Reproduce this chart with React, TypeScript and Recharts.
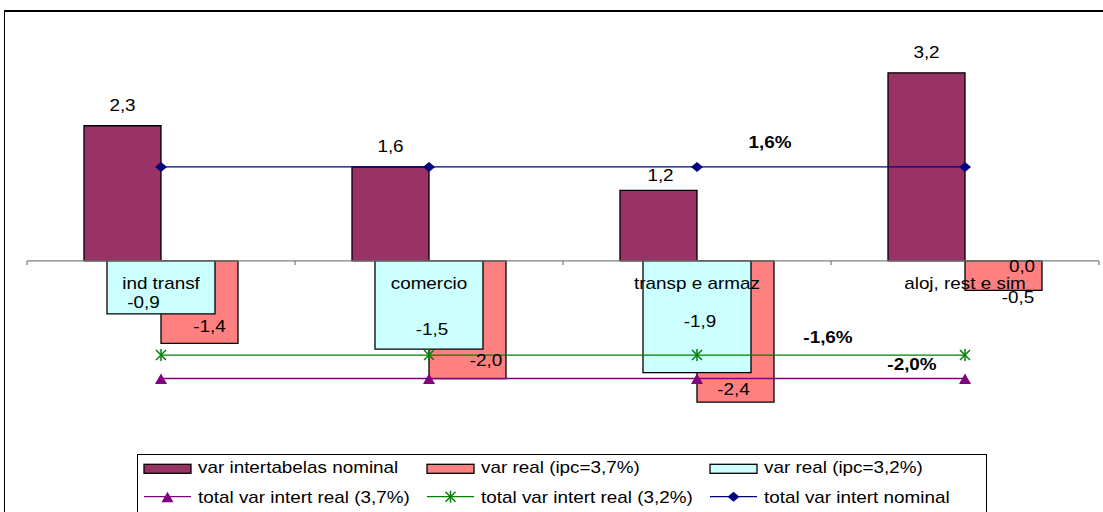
import React from 'react';
import { ComposedChart, Bar, Line, XAxis, YAxis, ReferenceLine, LabelList, Legend } from 'recharts';

// Sector categories and series values
const categories = ['ind transf', 'comercio', 'transp e armaz', 'aloj, rest e sim'];
const nominal = [2.3, 1.6, 1.2, 3.2];
const real37 = [-1.4, -2.0, -2.4, -0.5];
const real32 = [-0.9, -1.5, -1.9, 0.0];
const totalReal37 = [-2.0, -2.0, -2.0, -2.0];
const totalReal32 = [-1.6, -1.6, -1.6, -1.6];
const totalNominal = [1.6, 1.6, 1.6, 1.6];

const rows = categories.map((cat, i) => ({
  cat,
  nominal: nominal[i],
  real37: real37[i],
  real32: real32[i],
  tr37: totalReal37[i],
  tr32: totalReal32[i],
  tn: totalNominal[i],
  zero: 0,
}));

const C_NOMINAL = '#993366';
const C_REAL37 = '#FF8080';
const C_REAL32 = '#CCFFFF';
const C_TR37 = '#800080';
const C_TR32 = '#008000';
const C_TN = '#000080';

const FONT = "'Liberation Sans', Arial, Helvetica, sans-serif";
const SX = 1.18;
const HALF_CAP = 5.8;

// label nudges [dx, dy] per point
const NOMINAL_NUDGE = [[0, 0], [0, 0], [2, 6], [0, 0]];
const REAL37_NUDGE = [[10, -16.6], [18.5, -18.6], [-2, -13], [14.5, 6.6]];
const REAL32_NUDGE = [[-17.5, -12], [3, -20], [3, -51], [57, 5.7]];

const fmt = (v: number) => v.toFixed(1).replace('.', ',');

function SText({ x, y, bold, anchor = 'middle', children }: any) {
  return (
    <text
      transform={`translate(${x} ${y}) scale(${SX} 1)`}
      textAnchor={anchor}
      fontFamily={FONT}
      fontSize={16}
      fontWeight={bold ? 700 : 400}
      fill="#000"
    >
      {children}
    </text>
  );
}

function rectOf(p: any) {
  const v = p.viewBox && typeof p.viewBox.x === 'number' ? p.viewBox : p;
  const x = Number(v.x);
  const y = Number(v.y);
  const w = Number(v.width || 0);
  const h = Number(v.height || 0);
  return { cx: x + w / 2, top: Math.min(y, y + h), bottom: Math.max(y, y + h) };
}

const barLabel = (values: number[], nudge: number[][], place: 'above' | 'bottom') => (p: any) => {
  const i = p.index;
  const r = rectOf(p);
  const [dx, dy] = nudge[i];
  const cy = place === 'above' ? r.top - 21 + dy : r.bottom + dy;
  return (
    <SText key={`l${i}`} x={r.cx + dx} y={cy + HALF_CAP}>
      {fmt(values[i])}
    </SText>
  );
};

const lineNote = (values: number[], at: number, dx: number, dy: number) => (p: any) => {
  if (p.index !== at) return null;
  const r = rectOf(p);
  return (
    <SText key="note" x={r.cx + dx} y={r.top + dy + HALF_CAP} bold>
      {fmt(values[at]) + '%'}
    </SText>
  );
};

const categoryLabel = (p: any) => {
  const r = rectOf(p);
  return (
    <SText key={`c${p.index}`} x={r.cx} y={r.top + 28}>
      {categories[p.index]}
    </SText>
  );
};

function Diamond({ cx, cy }: any) {
  return <polygon points={`${cx},${cy - 5} ${cx + 6},${cy} ${cx},${cy + 5} ${cx - 6},${cy}`} fill={C_TN} />;
}
function Triangle({ cx, cy }: any) {
  return <polygon points={`${cx},${cy - 5} ${cx + 6},${cy + 5.5} ${cx - 6},${cy + 5.5}`} fill={C_TR37} />;
}
function Star({ cx, cy }: any) {
  return (
    <g stroke={C_TR32} strokeWidth={1.5}>
      <line x1={cx - 5} y1={cy - 5} x2={cx + 5} y2={cy + 5} />
      <line x1={cx - 5} y1={cy + 5} x2={cx + 5} y2={cy - 5} />
      <line x1={cx} y1={cy - 6} x2={cx} y2={cy + 6} />
    </g>
  );
}

const zeroAxis = (p: any) => {
  const { x1, y1, x2 } = p;
  const n = categories.length;
  const step = (x2 - x1) / n;
  return (
    <g>
      <line x1={x1} y1={y1} x2={x2} y2={y1} stroke="#808080" strokeWidth={1.3} />
      {Array.from({ length: n + 1 }, (_, k) => (
        <line key={k} x1={x1 + k * step} x2={x1 + k * step} y1={y1} y2={y1 + 4} stroke="#808080" strokeWidth={1.3} />
      ))}
    </g>
  );
};

const legendBars = [
  { name: 'var intertabelas nominal', color: C_NOMINAL },
  { name: 'var real (ipc=3,7%)', color: C_REAL37 },
  { name: 'var real (ipc=3,2%)', color: C_REAL32 },
];
const legendLines = [
  { name: 'total var intert real (3,7%)', color: C_TR37, Mark: Triangle },
  { name: 'total var intert real (3,2%)', color: C_TR32, Mark: Star },
  { name: 'total var intert nominal', color: C_TN, Mark: Diamond },
];
const LEGEND_COLS = [7, 290, 573];

function LegendBox() {
  return (
    <svg width={852} height={62} style={{ display: 'block', overflow: 'visible' }}>
      <rect x={0.5} y={0.5} width={849} height={70} fill="#fff" stroke="#000" />
      {legendBars.map((it, k) => (
        <g key={it.name}>
          <rect x={LEGEND_COLS[k]} y={10.3} width={47} height={9} fill={it.color} stroke="#000" strokeWidth={1.3} />
          <SText x={LEGEND_COLS[k] + 54} y={19.3} anchor="start">{it.name}</SText>
        </g>
      ))}
      {legendLines.map((it, k) => (
        <g key={it.name}>
          <line x1={LEGEND_COLS[k]} x2={LEGEND_COLS[k] + 47} y1={42.7} y2={42.7} stroke={it.color} strokeWidth={1.3} />
          <it.Mark cx={LEGEND_COLS[k] + 23.5} cy={42.7} />
          <SText x={LEGEND_COLS[k] + 54} y={49.3} anchor="start">{it.name}</SText>
        </g>
      ))}
    </svg>
  );
}

export default function App() {
  return (
    <div style={{ position: 'absolute', left: 0, top: 0, width: 1103, height: 512, overflow: 'hidden', background: '#fff' }}>
      <div
        style={{
          position: 'absolute',
          left: 4,
          top: 10,
          width: 1120,
          height: 540,
          borderTop: '2px solid #000',
          borderLeft: '1px solid #000',
          boxSizing: 'border-box',
        }}
      />
      <div style={{ position: 'absolute', left: 0, top: 0 }}>
        <ComposedChart
          width={1103}
          height={512}
          data={rows}
          margin={{ top: 49.3, right: 4, bottom: 86.4, left: 27 }}
          barGap={0}
        >
          <XAxis dataKey="cat" hide />
          <XAxis xAxisId="b" dataKey="cat" hide />
          <YAxis hide domain={[-2.8, 3.6]} type="number" />
          <ReferenceLine y={0} shape={zeroAxis} />
          <Legend
            layout="horizontal"
            verticalAlign="middle"
            align="center"
            content={() => <LegendBox />}
            wrapperStyle={{ left: 137, top: 454, width: 852, height: 62 }}
          />
          <Bar dataKey="nominal" fill={C_NOMINAL} stroke="#000" strokeWidth={1.3} barSize={77} isAnimationActive={false}>
            <LabelList dataKey="nominal" content={barLabel(nominal, NOMINAL_NUDGE, 'above')} />
          </Bar>
          <Bar dataKey="real37" fill={C_REAL37} stroke="#000" strokeWidth={1.3} barSize={77} isAnimationActive={false}>
            <LabelList dataKey="real37" content={barLabel(real37, REAL37_NUDGE, 'bottom')} />
          </Bar>
          <Bar xAxisId="b" dataKey="real32" fill={C_REAL32} stroke="#000" strokeWidth={1.3} barSize={108} isAnimationActive={false} />
          {/* value labels of the ipc=3,2% bars, anchored at each bar's end */}
          <Line xAxisId="b" dataKey="real32" stroke="none" strokeOpacity={0} dot={false} activeDot={false} legendType="none" isAnimationActive={false}>
            <LabelList dataKey="real32" content={barLabel(real32, REAL32_NUDGE, 'bottom')} />
          </Line>
          <Line dataKey="tr37" stroke={C_TR37} strokeWidth={1.5} dot={(p: any) => <Triangle key={`t${p.index}`} cx={p.cx} cy={p.cy} />} activeDot={false} isAnimationActive={false}>
            <LabelList dataKey="tr37" content={lineNote(totalReal37, 3, -53, -14.6)} />
          </Line>
          <Line dataKey="tr32" stroke={C_TR32} strokeWidth={1.3} dot={(p: any) => <Star key={`s${p.index}`} cx={p.cx} cy={p.cy} />} activeDot={false} isAnimationActive={false}>
            <LabelList dataKey="tr32" content={lineNote(totalReal32, 2, 131, -18.1)} />
          </Line>
          <Line dataKey="tn" stroke={C_TN} strokeWidth={1.3} dot={(p: any) => <Diamond key={`d${p.index}`} cx={p.cx} cy={p.cy} />} activeDot={false} isAnimationActive={false}>
            <LabelList dataKey="tn" content={lineNote(totalNominal, 2, 73, -24.2)} />
          </Line>
          <Line dataKey="zero" stroke="none" strokeOpacity={0} dot={false} activeDot={false} legendType="none" isAnimationActive={false}>
            <LabelList dataKey="cat" content={categoryLabel} />
          </Line>
        </ComposedChart>
      </div>
    </div>
  );
}
